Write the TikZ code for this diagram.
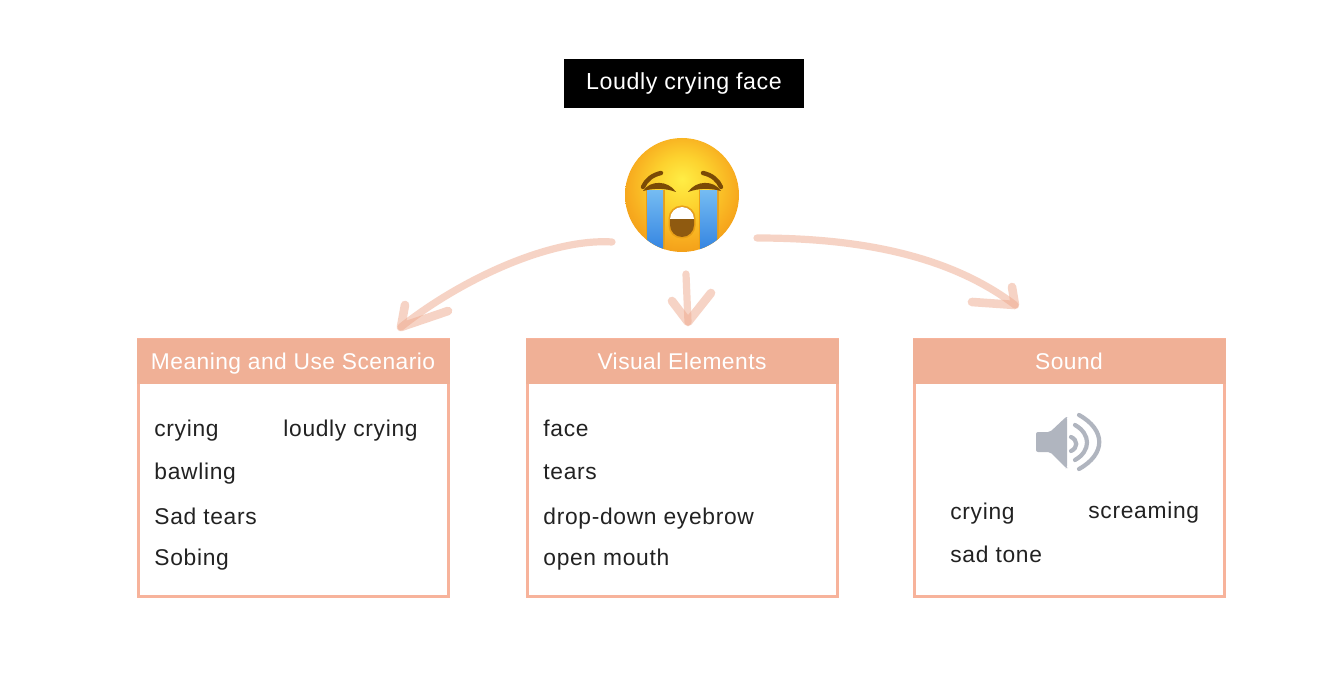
\documentclass[tikz,border=0pt]{standalone}
\usepackage{fontspec}
\setmainfont{Liberation Sans}
\newfontfamily\itemfont[LetterSpace=3]{Liberation Sans}
\newfontfamily\headfont[LetterSpace=2]{Liberation Sans}
\newfontfamily\titlefont[LetterSpace=2.5]{Liberation Sans}
\definecolor{headerfill}{HTML}{F0B096}
\definecolor{boxline}{HTML}{F7B39B}
\definecolor{strokecol}{HTML}{EFA98C}
\definecolor{txt}{HTML}{222222}
\definecolor{spk}{HTML}{B0B5BF}
\definecolor{browncol}{HTML}{7A4A06}
\definecolor{mouthcol}{HTML}{8F5A10}
\definecolor{mouthrim}{HTML}{EAA016}
\definecolor{teartop}{HTML}{74BBF2}
\definecolor{tearbot}{HTML}{2F80E0}
\pgfdeclareradialshading{facegrad}{\pgfpoint{0bp}{7bp}}{%
  rgb(0bp)=(1,0.93,0.27);
  rgb(12bp)=(0.99,0.82,0.18);
  rgb(24bp)=(0.97,0.67,0.12);
  rgb(34bp)=(0.93,0.57,0.07);
  rgb(50bp)=(0.90,0.50,0.05)}
\tikzset{
  x=0.5pt,y=-0.5pt,
  panel/.style={draw=boxline,line width=1.5pt,fill=white,minimum width=155pt,minimum height=128.5pt,inner sep=0pt},
  headbar/.style={fill=headerfill,minimum width=156.5pt,minimum height=22.5pt,inner sep=0pt,text=white,font=\headfont\fontsize{11.4}{13}\selectfont,text depth=0pt},
  item/.style={anchor=base west,inner sep=0pt,text=txt,font=\itemfont\fontsize{11.4}{13}\selectfont},
  sketch/.style={draw=strokecol,draw opacity=.5,line width=3.6pt,line cap=round,line join=round},
  sketchhead/.style={sketch,line width=4.3pt},
  spkarc/.style={draw=spk,line width=2.1pt,line cap=round},
  brow/.style={draw=browncol,line width=2.2pt,line cap=round}
}
\begin{document}
\begin{tikzpicture}
\useasboundingbox (0,0) rectangle (1344,684);
\fill[white] (0,0) rectangle (1344,684);
% title
\node[fill=black,text=white,minimum width=120pt,minimum height=24.5pt,inner sep=0pt,text height=8.5pt,text depth=2.5pt,font=\titlefont\fontsize{11.6}{13}\selectfont] (title) at (684,83.5) {Loudly crying face};
% panels
\node[panel] (box1) at (293,468) {};
\node[panel] (box2) at (682,468) {};
\node[panel] (box3) at (1069,468) {};
\node[headbar] (head1) at (293,361.5) {Meaning and Use Scenario};
\node[headbar] (head2) at (682,361.5) {Visual Elements};
\node[headbar] (head3) at (1069,361.5) {Sound};
% items
\node[item] (a1) at (154,436) {crying};
\node[item] (a2) at (283,436) {loudly crying};
\node[item] (a3) at (154,479) {bawling};
\node[item] (a4) at (154,524) {Sad tears};
\node[item] (a5) at (154,565) {Sobing};
\node[item] (b1) at (543,436) {face};
\node[item] (b2) at (543,479) {tears};
\node[item] (b3) at (543,524) {drop-down eyebrow};
\node[item] (b4) at (543,565) {open mouth};
\node[item] (c1) at (950,519) {crying};
\node[item] (c2) at (1088,518) {screaming};
\node[item] (c3) at (950,562) {sad tone};
% speaker
\fill[spk,rounded corners=1pt] (1036,432) -- (1050,432) -- (1066,417) -- (1067,417) -- (1067,468) -- (1066,468) -- (1050,452) -- (1036,452) -- cycle;
\draw[spkarc] (1071,437) .. controls (1078,440) and (1078,448) .. (1071,451);
\draw[spkarc] (1075,425) .. controls (1091,434) and (1091,451) .. (1075,460);
\draw[spkarc] (1079,415) .. controls (1106,430) and (1106,454) .. (1079,469);
% emoji
\node[circle,minimum size=57pt,inner sep=0pt] (emoji) at (682,195) {};
\shade[shading=facegrad] (682,195) circle[radius=57];
\begin{scope}
\clip (682,195) circle[radius=57];
\fill[mouthrim] (645.5,190) rectangle (664.5,255);
\fill[mouthrim] (698.5,190) rectangle (718.5,255);
\shade[top color=teartop,bottom color=tearbot] (647,191) rectangle (663,255);
\shade[top color=teartop,bottom color=tearbot] (700,191) rectangle (717,255);
\end{scope}
\fill[mouthrim,rounded corners=6.5pt] (668.5,205.5) rectangle (695.5,238.5);
\fill[mouthcol,rounded corners=6pt] (670,207) rectangle (694,237);
\begin{scope}
\clip (668,205) rectangle (696,219);
\fill[white,rounded corners=6pt] (670,207) rectangle (694,237);
\end{scope}
\draw[brow] (643,187) .. controls (646,180) and (652,175) .. (661,173);
\draw[brow] (721,187) .. controls (718,180) and (712,175) .. (703,173);
\fill[browncol] (643,191) .. controls (650,180) and (668,180) .. (676,192) .. controls (665,188) and (654,188) .. (643,191) -- cycle;
\fill[browncol] (721,191) .. controls (714,180) and (696,180) .. (688,192) .. controls (699,188) and (710,188) .. (721,191) -- cycle;
% connectors
\coordinate (s1) at (612,242);
\coordinate (t1) at (401,327);
\coordinate (s2) at (686,274);
\coordinate (t2) at (688,322);
\coordinate (s3) at (757,238);
\coordinate (t3) at (1015,305);
\draw[sketch] (s1) .. controls (550,238) and (460,280) .. (t1);
\draw[sketchhead] (405,305) -- (t1) -- (448,311);
\draw[sketch] (s2) -- (t2);
\draw[sketchhead] (672,301) -- (t2) -- (711,293);
\draw[sketch] (s3) .. controls (850,238) and (945,252) .. (t3);
\draw[sketchhead] (972,302) -- (t3) -- (1012,287);
\end{tikzpicture}
\end{document}
